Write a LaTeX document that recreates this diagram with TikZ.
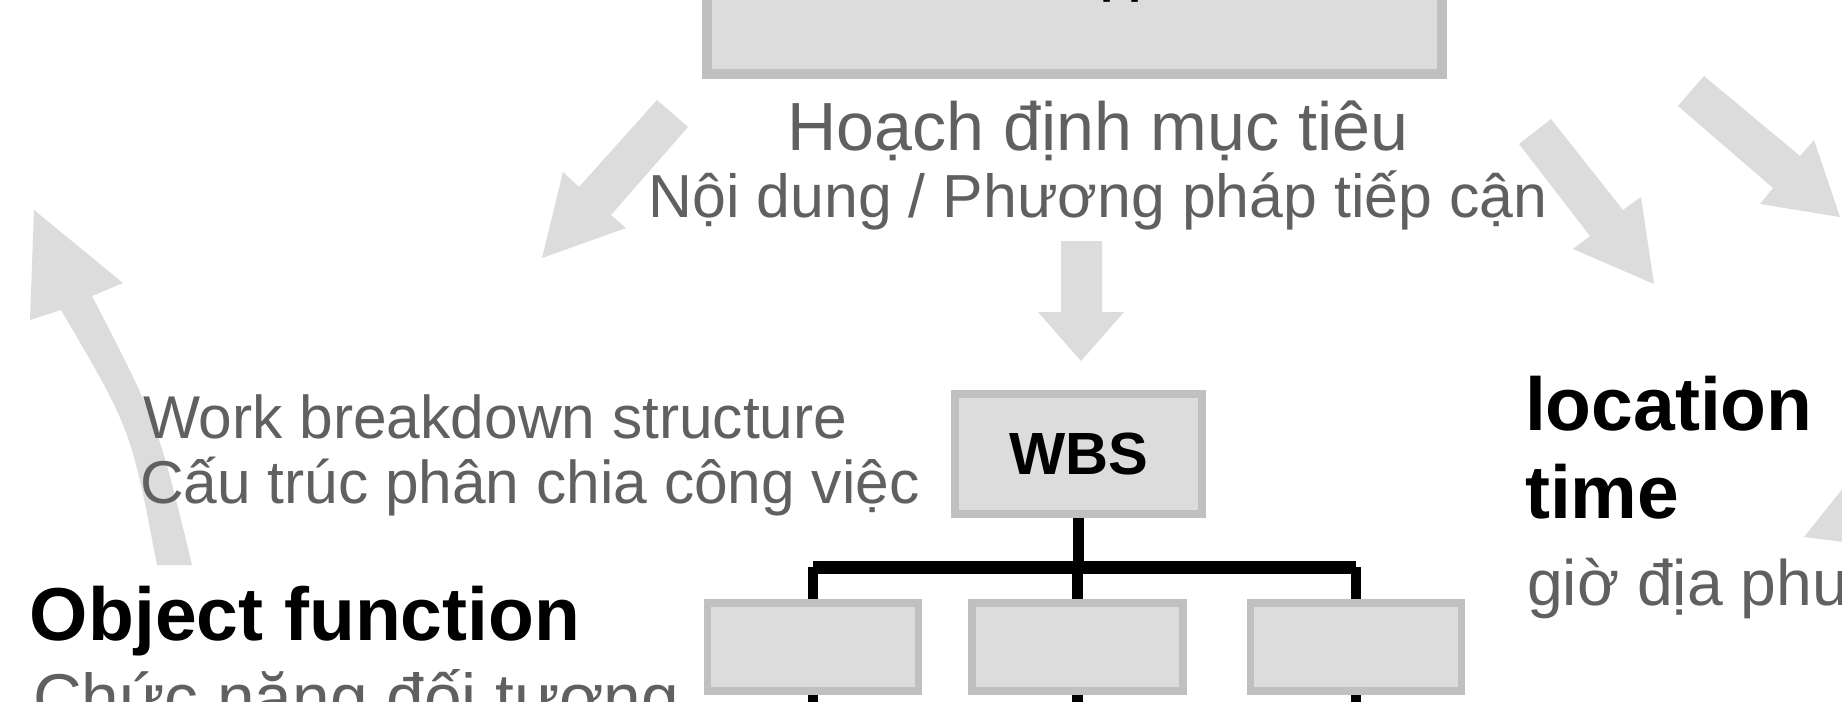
\documentclass[tikz,border=0pt]{standalone}
\usepackage{fontspec}
\setmainfont{Liberation Sans}
\definecolor{arrowgray}{RGB}{220,220,220}
\definecolor{boxfill}{RGB}{220,220,220}
\definecolor{boxline}{RGB}{192,192,192}
\definecolor{txtgray}{RGB}{96,96,96}
\newcommand{\setfs}[1]{\fontsize{#1pt}{#1pt}\selectfont}
\begin{document}
\begin{tikzpicture}[x=0.02cm,y=-0.02cm,
  blockarrow/.style={fill=arrowgray,draw=none},
  graybox/.style={draw=boxline,fill=boxfill,line width=4.5pt,inner sep=0pt},
  childbox/.style={graybox,minimum width=4.22cm,minimum height=1.76cm},
  gtext/.style={text=txtgray,inner sep=0pt,outer sep=0pt},
  btext/.style={text=black,inner sep=0pt,outer sep=0pt},
  stem/.style={line width=6.2pt,black},
  treebar/.style={line width=7.4pt,black}]
\useasboundingbox (0,0) rectangle (1842,701);
\fill[white] (0,0) rectangle (1842,701);

% block arrows
\fill[blockarrow] (657,100) -- (688,127) -- (611,215) -- (626,228) -- (542,258) -- (563,172) -- (579,187) -- cycle;
\fill[blockarrow] (1061,241) -- (1102,241) -- (1102,312) -- (1124,312) -- (1081,361) -- (1038,312) -- (1061,312) -- cycle;
\fill[blockarrow] (1519,144) -- (1551,119) -- (1623,210) -- (1641,197) -- (1654,284) -- (1573,249) -- (1590,236) -- cycle;
\fill[blockarrow] (1678,106) -- (1704,76) -- (1800,156) -- (1814,140) -- (1840,217) -- (1760,204) -- (1773,188) -- cycle;
\fill[blockarrow] (1860,467) -- (1804,537) -- (1860,544) -- cycle;
\fill[blockarrow] (34,210) -- (123,283) -- (92,296) .. controls (158,424) .. (192,565) -- (157,565) .. controls (131,429) .. (61,310) -- (30,320) -- cycle;

% top box (cut off)
\node[graybox,line width=5.67pt,minimum width=14.70cm,minimum height=3.8cm] (top) at (1074.5,-21) {};
\node[btext,anchor=base west,font=\bfseries\setfs{27}] (toptext) at (1100,-8) {pp};

% texts
\node[gtext,anchor=base,font=\setfs{38.8}] (hoach) at (1098,150) {Hoạch định mục tiêu};
\node[gtext,anchor=base,font=\setfs{34.6}] (noidung) at (1098,217) {Nội dung / Phương pháp tiếp cận};
\node[gtext,anchor=base west,font=\setfs{34.4}] (wbsen) at (143,438) {Work breakdown structure};
\node[gtext,anchor=base west,font=\setfs{34.4}] (wbsvi) at (140,503) {Cấu trúc phân chia công việc};
\node[btext,anchor=base west,font=\bfseries\setfs{42.7}] (objf) at (30,640) {Object function};
\node[gtext,anchor=base west,font=\setfs{38.5}] (chuc) at (33,721) {Chức năng đối tượng};
\node[btext,anchor=base west,font=\bfseries\setfs{42.7}] (loc) at (1525,430) {location};
\node[btext,anchor=base west,font=\bfseries\setfs{42.7}] (time) at (1525,518) {time};
\node[gtext,anchor=base west,font=\setfs{36.6}] (gio) at (1527,605) {giờ địa phương};

% WBS tree
\node[graybox,minimum width=4.94cm,minimum height=2.4cm,font=\bfseries\setfs{33.9}] (wbs) at (1078.5,454) {WBS};
\node[childbox] (c1) at (813,647) {};
\node[childbox] (c2) at (1077.5,647) {};
\node[childbox] (c3) at (1356,647) {};
\coordinate (bj) at (1079,567);
\draw[stem] (wbs.south) -- (wbs.south |- bj);
\draw[treebar] (c1.north |- bj) -- (c3.north |- bj);
\draw[stem] (c1.north |- bj) -- (c1.north);
\draw[stem] (c2.north |- bj) -- (c2.north);
\draw[stem] (c3.north |- bj) -- (c3.north);
\draw[stem] (c1.south) -- ++(0,30);
\draw[stem] (c2.south) -- ++(0,30);
\draw[stem] (c3.south) -- ++(0,30);
\end{tikzpicture}
\end{document}
